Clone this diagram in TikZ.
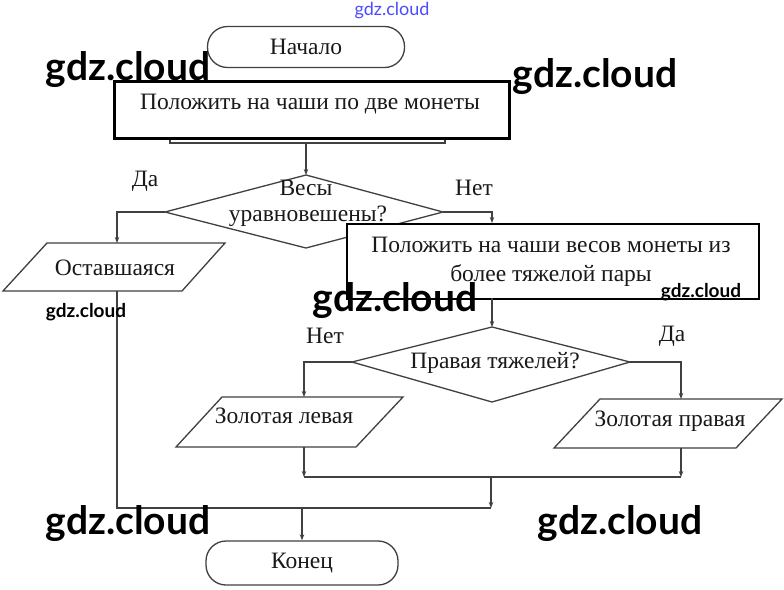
\documentclass[tikz,border=0pt]{standalone}
\usepackage{fontspec}
\setmainfont{Liberation Serif}
\newfontfamily\wmfont{Lato}
\usetikzlibrary{arrows.meta}
\begin{document}
\begin{tikzpicture}[x=1pt,y=-1pt,
  line/.style={draw=black!75, line width=1.3pt},
  arr/.style={line, -{Stealth[length=6pt,width=4.5pt]}},
  txt/.style={font=\fontsize{23.5}{28}\selectfont, text=black!90, inner sep=0pt},
  term/.style={draw=black!75, line width=1.3pt, rounded corners=20pt, minimum width=197pt, minimum height=41pt, txt},
  wmbig/.style={font=\wmfont\bfseries\fontsize{39}{42}\selectfont, text=black, inner sep=0pt},
  wmsmall/.style={font=\wmfont\bfseries\fontsize{19}{22}\selectfont, text=black, inner sep=0pt}]
\useasboundingbox[fill=white] (0,0) rectangle (784,589);

% terminators
\node[term] (start) at (306,47) {Начало};
\node[term, minimum width=192pt, minimum height=44pt] (end) at (302,563) {Конец};

% original (hidden) process box
\coordinate (ob1) at (170,120);
\coordinate (ob2) at (445,143);
\draw[line] (ob1) rectangle (ob2);
\coordinate (ob) at (306,143);

% diamond 1
\coordinate (d1t) at (306,175);
\coordinate (d1l) at (165,212);
\coordinate (d1r) at (443,212);
\coordinate (d1b) at (306,248);
\draw[line] (d1t) -- (d1r) -- (d1b) -- (d1l) -- cycle;
\node[txt] (d1a) at (306,188) {Весы};
\node[txt] (d1c) at (308,216) {уравновешены?};
\node[txt] (yes1) at (145,181) {Да};
\node[txt] (no1) at (474,188) {Нет};

\draw[arr] (ob) -- (d1t);

% parallelogram 1
\coordinate (p1t) at (117,243);
\coordinate (p1b) at (117,291);
\draw[line] (47,243) -- (225,243) -- (182,291) -- (3,291) -- cycle;
\node[txt] (p1) at (115,268) {Оставшаяся};
\coordinate (c1) at (117,212);
\draw[arr] (d1l) -- (c1) -- (p1t);

% right branch to box 2
\coordinate (c2) at (492,212);
\coordinate (b2t) at (492,223);
\draw[arr] (d1r) -- (c2) -- (b2t);

% diamond 2
\coordinate (d2t) at (492,327);
\coordinate (d2l) at (352,362);
\coordinate (d2r) at (630,362);
\coordinate (d2b) at (492,402);
\draw[line] (d2t) -- (d2r) -- (d2b) -- (d2l) -- cycle;
\node[txt] (d2) at (495,363) {Правая тяжелей?};
\node[txt] (no2) at (325,336) {Нет};
\node[txt] (yes2) at (672,336) {Да};

% parallelogram 2
\draw[line] (222,397) -- (403,397) -- (356,447) -- (176,447) -- cycle;
\node[txt] (p2) at (284,416) {Золотая левая};
\coordinate (p2t) at (304,397);
\coordinate (p2b) at (304,447);
\coordinate (c3) at (304,362);
\draw[arr] (d2l) -- (c3) -- (p2t);

% parallelogram 3
\draw[line] (600,399) -- (782,399) -- (736,448) -- (554,448) -- cycle;
\node[txt] (p3) at (670,421) {Золотая правая};
\coordinate (p3t) at (681,399);
\coordinate (p3b) at (681,448);
\coordinate (c4) at (681,362);
\draw[arr] (d2r) -- (c4) -- (p3t);

% merges
\coordinate (m2l) at (304,477);
\coordinate (m2r) at (681,477);
\coordinate (m2c) at (491,477);
\coordinate (m1c) at (491,508);
\coordinate (m1l) at (117,508);
\coordinate (m1e) at (302,508);
\draw[arr] (p2b) -- (m2l);
\draw[arr] (p3b) -- (m2r);
\draw[line] (m2l) -- (m2r);
\draw[arr] (m2c) -- (m1c);
\draw[line] (p1b) -- (m1l) -- (m1c);
\draw[arr] (m1e) -- (end.north);

% overlay boxes
\node[draw=black, line width=3pt, fill=white, minimum width=395pt, minimum height=57pt, anchor=north west, inner sep=0pt] (box1) at (113,80) {};
\node[txt] (box1t) at (310,104) {Положить на чаши по две монеты};

\node[draw=black, line width=1.6pt, fill=white, minimum width=412pt, minimum height=75pt, anchor=north west, inner sep=0pt] (box2) at (346,223) {};
\node[txt, align=center, font=\fontsize{23.5}{29}\selectfont] (box2t) at (551,262) {Положить на чаши весов монеты из\\более тяжелой пары};
\coordinate (b2b) at (492,298);
\draw[arr] (b2b) -- (d2t);

% watermarks
\node[font=\wmfont\fontsize{18}{20}\selectfont, text=blue!70, inner sep=0pt] (wm0) at (392,11) {gdz.cloud};
\node[wmbig] (wm1) at (128,70) {gdz.cloud};
\node[wmbig] (wm2) at (595,77) {gdz.cloud};
\node[wmbig] (wm3) at (395,301) {gdz.cloud};
\node[wmbig] (wm4) at (128,524) {gdz.cloud};
\node[wmbig] (wm5) at (620,524) {gdz.cloud};
\node[wmsmall] (wm6) at (86,312) {gdz.cloud};
\node[wmsmall] (wm7) at (701,292) {gdz.cloud};
\end{tikzpicture}
\end{document}
